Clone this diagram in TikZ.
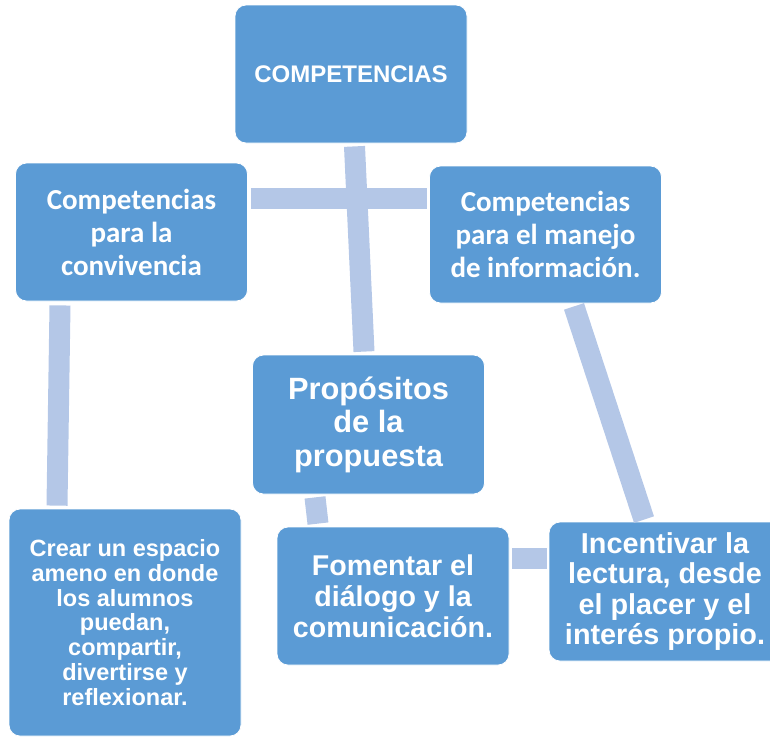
\documentclass[tikz,border=0pt]{standalone}
\usepackage{fontspec}
\setmainfont{Liberation Sans}
\newfontfamily\carlito{Carlito}
\definecolor{boxblue}{HTML}{5B9BD5}
\definecolor{barblue}{HTML}{B4C7E7}
\begin{document}
\begin{tikzpicture}
[x=1pt, y=-1pt,
box/.style={fill=boxblue, draw=white, line width=0.8pt, rounded corners=11pt, text=white, align=center, inner sep=0pt, minimum width=232pt, minimum height=138pt},
link/.style={barblue, line width=21pt, line cap=butt}]
\useasboundingbox (0,0) rectangle (770,737);
\node[box, font=\bfseries\fontsize{24}{26}\selectfont] (comp) at (351,74) {COMPETENCIAS};
\node[box, font=\carlito\bfseries\fontsize{29}{33}\selectfont] (conv) at (131.5,232) {Competencias\\para la\\convivencia};
\node[box, font=\carlito\bfseries\fontsize{29}{33}\selectfont, minimum height=137pt] (info) at (545.5,234.5) {Competencias\\para el manejo\\de información.};
\node[box, font=\bfseries\fontsize{30.8}{33.5}\selectfont, minimum height=139pt] (prop) at (368.5,424.5) {Propósitos\\de la\\propuesta};
\node[box, font=\bfseries\fontsize{23.5}{24.8}\selectfont, minimum height=227pt] (crear) at (125,622.5) {Crear un espacio\\ameno en donde\\los alumnos\\puedan,\\compartir,\\divertirse y\\reflexionar.};
\node[box, font=\bfseries\fontsize{28.6}{31}\selectfont] (foment) at (393,596) {Fomentar el\\diálogo y la\\comunicación.};
\node[box, font=\bfseries\fontsize{28.8}{30.3}\selectfont, minimum height=139pt] (incent) at (665,591.5) {Incentivar la\\lectura, desde\\el placer y el\\interés propio.};
\draw[link] ([xshift=3.5pt,yshift=-3pt]comp.south) -- ([xshift=-4.5pt,yshift=3pt]prop.north);
\draw[link] ([xshift=3pt,yshift=34pt]conv.east) -- ([xshift=-2pt,yshift=36.5pt]info.west);
\draw[link] ([xshift=-71.5pt,yshift=-4pt]conv.south) -- ([xshift=-68pt,yshift=3pt]crear.north);
\draw[link] ([xshift=28.5pt,yshift=-3pt]info.south) -- ([xshift=-21pt,yshift=2pt]incent.north);
\draw[link] ([xshift=-53.5pt,yshift=-3pt]prop.south) -- ([xshift=-75pt,yshift=3pt]foment.north);
\draw[link] ([xshift=3pt,yshift=38pt]foment.east) -- ([xshift=-2pt,yshift=33.5pt]incent.west);
\end{tikzpicture}
\end{document}
